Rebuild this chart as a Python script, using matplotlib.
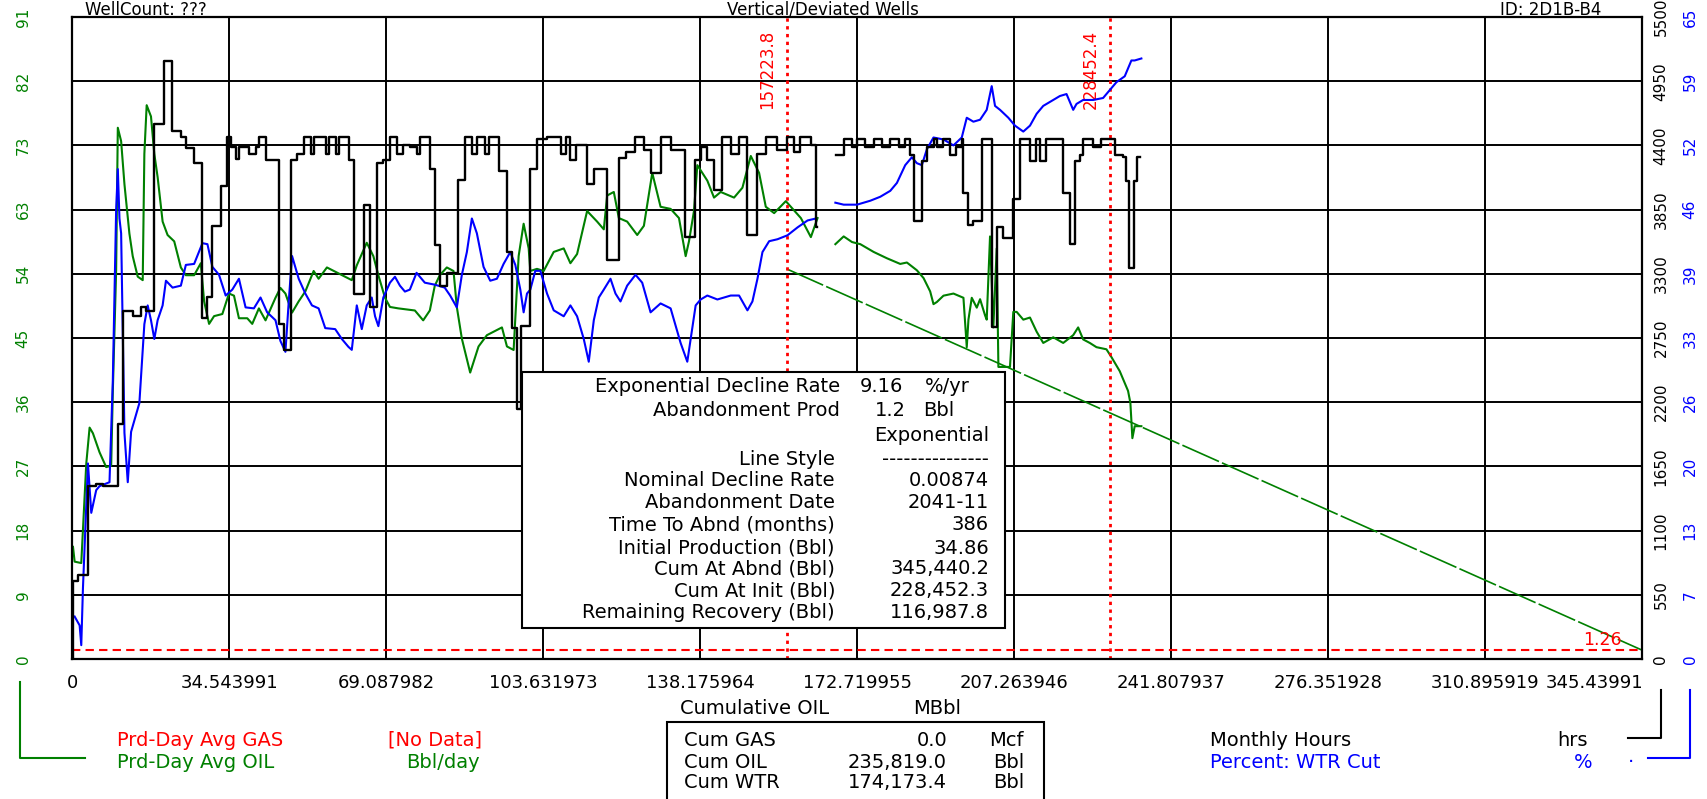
import numpy as np
import matplotlib
matplotlib.use("Agg")
import matplotlib.pyplot as plt
from matplotlib.patches import Rectangle
from matplotlib.lines import Line2D

W, H = 1707, 799
NAN = np.nan

# cumulative oil axis (MBbl)
x_step = 34.543991
x_max = 345.43991

# Prd-Day Avg OIL (Bbl/day) vs cumulative oil
oil_x = [0.22, 0.58, 2.04, 3.14, 3.87, 4.60, 6.06, 7.52, 8.62, 8.98, 9.71, 10.08, 10.81, 11.54,
         12.63, 13.36, 14.46, 15.56, 15.92, 16.43, 17.38, 18.11, 18.84, 19.94, 21.03, 22.49,
         23.95, 25.05, 26.87, 28.34, 29.07, 30.16, 31.26, 33.08, 34.54, 35.64, 36.73, 38.56,
         39.66, 41.12, 42.58, 44.77, 45.86, 46.96, 48.42, 49.88, 51.34, 53.17, 54.26, 56.09,
         61.56, 62.66, 64.85, 66.31, 67.41, 68.87, 69.96, 71.79, 75.44, 77.27, 78.73, 79.82,
         80.92, 82.47, 83.94, 84.67, 85.78, 87.61, 89.45, 91.29, 94.60, 95.70, 97.17, 98.27,
         99.37, 100.48, 100.84, 102.31, 103.78, 105.99, 108.19, 109.66, 111.13, 113.34,
         115.54, 117.01, 117.75, 119.21, 120.32, 122.15, 124.36, 125.83, 127.67, 129.50,
         131.71, 133.55, 135.02, 135.75, 136.85, 137.59, 139.79, 141.26, 142.73, 145.67,
         147.51, 149.35, 151.18, 152.65, 154.49, 157.06, 158.16, 160.37, 162.57, 164.04,
         166.0,
         167.96, 169.79, 171.62, 173.45, 176.38, 179.31, 182.23, 183.70, 185.89, 187.36,
         188.82, 189.55, 190.29, 191.75, 193.94, 196.14, 196.87, 197.24, 197.97, 199.07,
         199.80, 200.90, 201.26, 201.99, 202.72, 203.46, 203.83, 204.92, 206.38, 207.11,
         207.85, 209.31, 210.78, 212.24, 213.70, 215.90, 218.09, 220.29, 221.38, 222.48,
         223.94, 225.41, 227.60, 228.70, 230.53, 232.36, 232.87, 233.31, 233.82, 235.29]
oil_rate = [15.9, 13.8, 13.6, 27.7, 32.8, 32.0, 29.3, 27.2, 27.4, 37.9, 55.0, 75.3, 73.4, 67.3,
            60.3, 57.1, 54.2, 53.7, 71.6, 78.5, 76.9, 71.6, 68.3, 62.0, 60.1, 59.2,
            55.5, 54.4, 54.4, 56.1, 50.7, 47.5, 48.6, 48.9, 51.8, 51.5, 48.3, 48.3,
            47.5, 49.7, 48.0, 51.2, 52.6, 51.8, 49.1, 50.7, 52.1, 55.0, 53.9, 55.5,
            53.7, 55.8, 59.0, 57.1, 54.4, 51.2, 49.9, 49.7, 49.4, 48.0, 49.4, 52.9,
            54.4, 55.5, 55.0, 49.9, 45.4, 40.6, 44.3, 45.9, 47.0, 44.3, 43.8, 57.1,
            61.7, 58.2, 55.0, 55.3, 55.0, 57.7, 58.2, 56.1, 57.4, 63.5,
            62.0, 60.9, 65.7, 66.2, 62.5, 62.0, 60.1, 61.4, 68.9, 64.1,
            63.8, 62.5, 57.1, 59.2, 63.5, 70.0, 67.8, 65.4, 66.2, 65.4,
            66.8, 71.3, 68.9, 64.1, 63.2, 64.9, 64.1, 62.5, 59.8, 62.5,
            NAN,
            58.8, 59.9, 59.1, 58.8, 57.7, 56.8, 56.0, 56.2, 55.1, 54.0,
            52.1, 50.3, 50.6, 51.5, 51.8, 51.2, 44.2, 48.1, 51.2, 49.8,
            51.0, 48.7, 48.1, 59.9, 47.0, 58.2, 41.4, 41.4, 41.4, 49.2,
            49.2, 48.1, 48.4, 46.4, 44.8, 45.6, 44.8, 45.9, 47.0, 45.3,
            44.8, 44.2, 43.9, 42.8, 40.8, 38.0, 36.3, 31.3, 33.0, 33.0]

# Percent: WTR Cut (%)
wtr_x = [0.58, 1.68, 2.04, 2.41, 2.78, 3.51, 4.24, 5.33, 6.06, 8.25, 8.98, 9.71, 10.08, 10.44,
         10.81, 11.54, 12.27, 13.00, 14.82, 15.92, 16.65, 17.38, 18.11, 18.84, 19.94, 20.67,
         22.13, 23.95, 25.05, 26.87, 28.70, 29.80, 30.89, 32.35, 33.81, 35.27, 36.73, 38.19,
         40.02, 41.48, 42.94, 44.77, 45.86, 46.96, 47.69, 48.42, 49.88, 51.34, 52.80, 54.26,
         55.72, 57.91, 59.37, 60.83, 61.56, 62.66, 63.76, 64.85, 65.95, 66.68, 67.41, 68.50,
         69.96, 71.06, 72.15, 73.25, 74.34, 75.81, 77.63, 79.82, 82.01, 83.20, 84.67, 85.78,
         86.88, 87.98, 89.08, 90.55, 92.02, 93.49, 94.96, 96.43, 97.54, 98.64, 99.37, 100.11,
         100.84, 101.94, 103.05, 104.52, 105.99, 108.19, 109.66, 111.13, 112.60, 113.70,
         114.81, 115.91, 117.01, 118.48, 119.58, 120.68, 122.15, 123.99, 125.46, 127.30,
         129.50, 131.71, 133.91, 135.38, 136.12, 137.22, 138.32, 139.79, 142.00, 144.94,
         146.77, 148.61, 149.71, 150.82, 151.92, 153.39, 155.23, 157.43, 159.64, 161.84,
         163.68,
         166.0,
         167.96, 169.79, 172.72, 175.65, 177.84, 180.04, 181.50, 183.33, 184.79, 185.89,
         186.99, 188.09, 189.55, 191.75, 193.94, 195.77, 196.87, 198.33, 199.80, 201.26,
         202.36, 203.09, 204.19, 206.02, 207.48, 209.31, 210.78, 212.24, 213.70, 215.90,
         217.36, 218.82, 220.29, 221.02, 222.48, 224.68, 226.87, 228.34, 229.80, 231.63,
         233.09, 233.82, 235.29]
wtr_cut = [4.3, 3.4, 1.4, 7.2, 11.4, 19.8, 14.8, 17.1, 17.5, 17.9, 28.2, 45.4, 49.6, 44.6,
           43.1, 22.9, 17.9, 23.0, 25.9, 33.9, 35.8, 34.3, 32.4, 34.3, 35.8, 38.3,
           37.6, 37.8, 39.9, 40.0, 42.1, 42.0, 39.7, 38.9, 36.8, 37.4, 38.5, 35.6,
           35.5, 36.6, 35.1, 34.3, 32.2, 31.1, 36.2, 40.8, 38.5, 37.0, 35.8, 35.5,
           33.5, 33.4, 32.4, 31.6, 31.3, 35.8, 33.4, 35.8, 36.6, 34.7, 33.7, 36.6,
           38.1, 38.7, 37.8, 37.2, 37.4, 39.1, 38.1, 37.9, 37.6, 36.8, 35.6, 38.9,
           41.2, 44.6, 43.1, 39.7, 38.3, 38.5, 40.0, 41.2, 39.9, 37.4, 35.1, 37.0,
           37.4, 39.3, 39.3, 37.0, 35.3, 34.7, 35.8, 34.7, 32.4, 30.1,
           34.3, 36.6, 37.4, 38.5, 37.0, 36.2, 37.8, 38.9, 38.1, 35.1,
           36.0, 35.5, 32.0, 30.1, 32.4, 35.8, 36.4, 36.8, 36.4, 36.8,
           36.8, 35.3, 36.2, 38.5, 41.2, 42.3, 42.5, 42.9, 43.7, 44.4,
           44.6,
           NAN,
           46.2, 46.0, 46.0, 46.4, 46.8, 47.4, 48.2, 50.0, 50.8, 50.2,
           50.0, 51.6, 52.8, 52.6, 52.0, 52.8, 54.8, 54.4, 54.6, 55.6,
           58.0, 56.0, 55.6, 54.8, 54.0, 53.4, 54.0, 55.2, 56.0, 56.6,
           57.0, 57.2, 55.6, 56.2, 56.6, 56.6, 56.8, 57.6, 58.4, 59.0,
           60.6, 60.6, 60.8]

# Monthly Hours (step series, right axis 0-5500)
hrs_x = [0.0, 0.25, 1.31, 3.51, 5.3, 6.8, 10.08, 11.2, 13.4, 15.2, 16.3, 18.1, 20.3, 22.1,
         23.95, 25.05, 26.9, 28.7, 29.8, 30.9, 32.7, 34.2, 35.0, 36.0, 36.7, 38.9, 40.4,
         41.1, 42.6, 45.5, 46.6, 48.1, 49.6, 51.1, 52.5, 53.3, 55.8, 56.5, 58.0, 58.7,
         60.9, 62.0, 64.2, 65.6, 67.1, 68.5, 70.0, 71.4, 72.9, 74.3, 75.8, 76.6, 78.7,
         79.9, 81.0, 82.5, 85.0, 86.5, 88.0, 89.1, 90.9, 91.7, 94.0, 95.7, 96.8, 97.9,
         98.7, 100.8, 102.3, 104.5, 107.5, 108.6, 109.5, 110.8, 113.3, 114.8, 117.7,
         120.3, 122.0, 123.9, 125.8, 127.3, 129.5, 131.7, 134.8, 137.0, 138.4, 139.8,
         141.3, 143.1, 145.0, 146.8, 148.6, 150.8, 152.6, 155.2, 157.4, 158.9, 160.1,
         162.5, 163.6, 164.0,
         168.0, 169.8, 171.6, 172.7, 174.5, 176.4, 178.2, 180.0, 181.9, 183.3, 184.4,
         185.2, 187.0, 188.1, 189.6, 190.3, 191.7, 193.2, 194.6, 195.8, 196.1, 197.2,
         198.3, 200.2, 202.4, 203.5, 204.9, 207.1, 208.6, 210.8, 212.2, 213.0, 214.4,
         218.1, 219.5, 220.6, 221.8, 222.5, 224.7, 226.5, 229.4, 231.2, 231.9, 232.6,
         233.7, 234.4, 235.0]
hrs_val = [0, 672, 721, 1481, 1497, 1481, 2014, 2984, 2942, 3015, 2984, 4585, 5119, 4520,
           4471, 4374, 4245, 2920, 3098, 3711, 4051, 4471, 4390, 4287, 4390, 4326, 4390,
           4471, 4278, 2871, 2645, 4278, 4326, 4471, 4326, 4471, 4326, 4471, 4326, 4471,
           4278, 3130, 3890, 3015, 4245, 4278, 4471, 4326, 4406, 4390, 4326, 4471, 4196,
           3549, 3195, 3307, 4100, 4471, 4326, 4471, 4326, 4471, 4180, 3486, 2839, 2144,
           2855, 4196, 4455, 4471, 4326, 4471, 4278, 4406, 4067, 4196, 3421,
           4294, 4342, 4471, 4358, 4164, 4471, 4358, 3615, 4278, 4390, 4278,
           4019, 4471, 4326, 4471, 3631, 4326, 4471, 4358, 4471, 4342, 4471,
           4400, 3700, NAN,
           4316, 4451, 4384, 4451, 4384, 4451, 4384, 4451, 4384, 4451, 4316,
           3756, 4265, 4384, 4451, 4384, 4451, 4316, 4384, 4451, 3993, 3722,
           3756, 4451, 2840, 3705, 3603, 3942, 4451, 4265, 4451, 4265, 4451,
           3993, 3552, 4265, 4316, 4451, 4384, 4451, 4316, 4299, 4095, 3349,
           4095, 4299, 4299]

# exponential decline forecast (rate vs cum is a straight line)
decline_x = [157.2238, 228.4523, 345.4402]
decline_q = [55.3, 34.86, 1.26]
aband_rate = 1.26
marker_cum = [157.2238, 228.4524]
marker_txt = ["157223.8", "228452.4"]

left_ticks = ["0", "9", "18", "27", "36", "45", "54", "63", "73", "82", "91"]
hrs_ticks = ["0", "550", "1100", "1650", "2200", "2750", "3300", "3850", "4400", "4950", "5500"]
wtr_ticks = ["0", "7", "13", "20", "26", "33", "39", "46", "52", "59", "65"]
x_ticks = ["0", "34.543991", "69.087982", "103.631973", "138.175964", "172.719955",
           "207.263946", "241.807937", "276.351928", "310.895919", "345.43991"]

box_labels = ["Exponential Decline Rate", "Abandonment Prod", "", "Line Style",
              "Nominal Decline Rate", "Abandonment Date", "Time To Abnd (months)",
              "Initial Production (Bbl)", "Cum At Abnd (Bbl)", "Cum At Init (Bbl)",
              "Remaining Recovery (Bbl)"]
box_values = ["", "", "Exponential", "---------------", "0.00874", "2041-11", "386",
              "34.86", "345,440.2", "228,452.3", "116,987.8"]

cum_names = ["Cum GAS", "Cum OIL", "Cum WTR"]
cum_values = ["0.0", "235,819.0", "174,173.4"]
cum_units = ["Mcf", "Bbl", "Bbl"]

GREEN = "#008000"
BLUE = "#0000ff"
RED = "#ff0000"
FS = 14

plt.rcParams["font.family"] = ["DejaVu Sans"]

fig = plt.figure(figsize=(W / 100, H / 100), dpi=100)
fig.patch.set_facecolor("white")


def px(x, y):
    return x / W, 1 - y / H


def ftext(x, y, s, **kw):
    kw.setdefault("va", "center")
    kw.setdefault("fontsize", FS)
    fig.text(*px(x, y), s, **kw)


ax = fig.add_axes([72 / W, 1 - 659 / H, 1570 / W, 642 / H])
ax.set_xlim(0, x_max)
ax.set_ylim(0, 91)
ax.set_xticks(np.arange(11) * x_step)
ax.set_yticks(np.linspace(0, 91, 11))
ax.set_xticklabels([])
ax.set_yticklabels([])
ax.tick_params(length=0)
ax.grid(True, color="black", lw=1.4)
for s in ax.spines.values():
    s.set_linewidth(1.6)

ax_w = ax.twinx()
ax_w.set_ylim(0, 65)
ax_h = ax.twinx()
ax_h.set_ylim(0, 5500)
for a in (ax_w, ax_h):
    a.set_yticks([])
    for s in a.spines.values():
        s.set_visible(False)

# oil rate and forecast
ax.plot(oil_x, oil_rate, color=GREEN, lw=1.5)
ax.plot(decline_x, decline_q, color=GREEN, lw=1.2, ls=(0, (24, 2)))
ax.axhline(aband_rate, color=RED, lw=1.5, ls=(0, (4, 2.5)))
for xc, t in zip(marker_cum, marker_txt):
    ax.axvline(xc, color=RED, lw=2, ls=(0, (1.2, 1.6)))
    ax.annotate(t, xy=(xc, 0.918), xycoords=("data", "axes fraction"),
                xytext=(-14, 0), textcoords="offset points", rotation=90,
                ha="center", va="center", color=RED, fontsize=12)
ax.text(x_max - 4.4, aband_rate + 0.2, "1.26", color=RED, fontsize=12.5,
        ha="right", va="bottom")

ax_w.plot(wtr_x, wtr_cut, color=BLUE, lw=1.5)
ax_h.plot(hrs_x, hrs_val, color="black", lw=1.7, drawstyle="steps-post")

# rotated axis labels
for i in range(11):
    ax.text(-0.0312, i * 9.1, left_ticks[i], transform=ax.get_yaxis_transform(),
            rotation=90, ha="center", va="center", color=GREEN, fontsize=11)
    ax_h.text(1.0121, i * 550, hrs_ticks[i], transform=ax_h.get_yaxis_transform(),
              rotation=90, ha="center", va="center", color="black", fontsize=11)
    ax_w.text(1.0306, i * 6.5, wtr_ticks[i], transform=ax_w.get_yaxis_transform(),
              rotation=90, ha="center", va="center", color=BLUE, fontsize=11)

# x tick labels
for i, t in enumerate(x_ticks):
    xp = 72 + i * 157
    if i == 10:
        ftext(1643, 683, t, ha="right", fontsize=13)
    else:
        ftext(xp, 683, t, ha="center", fontsize=13)

# header texts
ftext(85, 1, "WellCount: ???", va="top", fontsize=12)
ftext(727, 1, "Vertical/Deviated Wells", va="top", fontsize=12)
ftext(1500, 1, "ID: 2D1B-B4", va="top", fontsize=12)

# decline summary box
fig.add_artist(Rectangle(px(522, 628), 483 / W, 256 / H, transform=fig.transFigure,
                         facecolor="white", edgecolor="black", lw=1.5, zorder=5))
rows_y = [387, 410, 436, 459, 481, 503, 525, 548, 569, 591, 612]
for i, y in enumerate(rows_y):
    xr = 840 if i < 2 else 835
    if box_labels[i]:
        ftext(xr, y, box_labels[i], ha="right", zorder=6)
    if box_values[i]:
        ftext(989, y, box_values[i], ha="right", zorder=6)
ftext(860, rows_y[0], "9.16", ha="left", zorder=6)
ftext(925, rows_y[0], "%/yr", ha="left", zorder=6)
ftext(875, rows_y[1], "1.2", ha="left", zorder=6)
ftext(923, rows_y[1], "Bbl", ha="left", zorder=6)

# x axis title and cumulative box
ftext(680, 708, "Cumulative OIL", ha="left")
ftext(913, 708, "MBbl", ha="left")
fig.add_artist(Rectangle(px(667, 820), 377 / W, 98 / H, transform=fig.transFigure,
                         facecolor="white", edgecolor="black", lw=1.5, zorder=5))
for i, y in enumerate([740, 762, 783]):
    ftext(684, y, cum_names[i], ha="left", zorder=6)
    ftext(947, y, cum_values[i], ha="right", zorder=6)
    ftext(1024, y, cum_units[i], ha="right", zorder=6)

# legend on the left
ftext(117, 740, "Prd-Day Avg GAS", ha="left", color=RED)
ftext(388, 740, "[No Data]", ha="left", color=RED)
ftext(117, 762, "Prd-Day Avg OIL", ha="left", color=GREEN)
ftext(406, 762, "Bbl/day", ha="left", color=GREEN)
fig.add_artist(Line2D([20 / W, 20 / W, 85 / W], [1 - 682 / H, 1 - 758 / H, 1 - 758 / H],
                      transform=fig.transFigure, color=GREEN, lw=1.5))

# legend on the right
ftext(1210, 740, "Monthly Hours", ha="left")
ftext(1557, 740, "hrs", ha="left")
ftext(1210, 762, "Percent: WTR Cut", ha="left", color=BLUE)
ftext(1574, 762, "%", ha="left", color=BLUE)
fig.add_artist(Line2D([1628 / W, 1661 / W, 1661 / W], [1 - 738 / H, 1 - 738 / H, 1 - 690 / H],
                      transform=fig.transFigure, color="black", lw=1.5))
fig.add_artist(Line2D([1648 / W, 1690 / W, 1690 / W], [1 - 758 / H, 1 - 758 / H, 1 - 690 / H],
                      transform=fig.transFigure, color=BLUE, lw=1.5))
ftext(1631, 757, ".", ha="center", color=BLUE)

fig.savefig("out.png", dpi=100)
